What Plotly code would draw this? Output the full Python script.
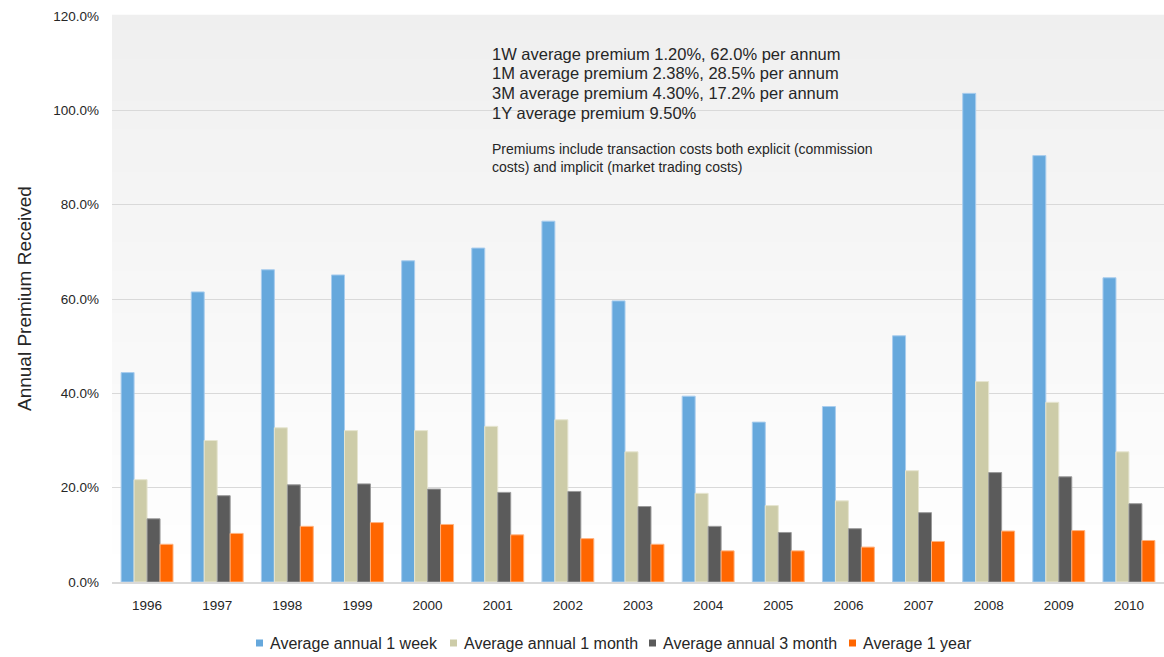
import plotly.graph_objects as go

# Years on the category axis
years = ["1996", "1997", "1998", "1999", "2000", "2001", "2002", "2003",
         "2004", "2005", "2006", "2007", "2008", "2009", "2010"]

# Annual premium received (%) per tenor
week_1 = [44.4, 61.5, 66.2, 65.1, 68.1, 70.8, 76.5, 59.6, 39.4, 33.9, 37.2, 52.2, 103.6, 90.4, 64.5]
month_1 = [21.7, 30.0, 32.7, 32.1, 32.1, 33.0, 34.4, 27.6, 18.8, 16.2, 17.2, 23.6, 42.5, 38.1, 27.6]
month_3 = [13.4, 18.3, 20.6, 20.8, 19.7, 19.0, 19.2, 16.0, 11.8, 10.5, 11.3, 14.7, 23.2, 22.3, 16.6]
year_1 = [8.0, 10.3, 11.8, 12.6, 12.2, 10.0, 9.2, 8.0, 6.6, 6.6, 7.4, 8.6, 10.8, 10.9, 8.8]

series_names = ["Average annual 1 week", "Average annual 1 month",
                "Average annual 3 month", "Average 1 year"]

note_lines = [
    "1W average premium 1.20%, 62.0% per annum",
    "1M average premium 2.38%, 28.5% per annum",
    "3M average premium 4.30%, 17.2% per annum",
    "1Y average premium 9.50%",
]
cost_lines = [
    "Premiums include transaction costs both explicit (commission",
    "costs) and implicit (market trading costs)",
]

y_ticks = [0, 20, 40, 60, 80, 100, 120]
y_tick_text = ["0.0%", "20.0%", "40.0%", "60.0%", "80.0%", "100.0%", "120.0%"]

FONT = "Liberation Sans, Arial, sans-serif"
TXT = "#262626"

W, H = 1164, 657
ML, MR, MT, MB = 112, 0, 16, 75
plot_h = H - MT - MB
plot_w = W - ML - MR


def py(pix):
    """Pixel row -> paper y coordinate."""
    return (H - MB - pix) / plot_h


def px(pix):
    """Pixel column -> paper x coordinate."""
    return (pix - ML) / plot_w


fills = ["#66a8dc", "#cdcca8", "#5b5b5b", "#ff6600"]
edges = ["#a9cdee", "#e6e5d0", "#9a9a9a", "#ffb27f"]
values = [week_1, month_1, month_3, year_1]

fig = go.Figure()
for name, vals, c, e in zip(series_names, values, fills, edges):
    fig.add_trace(go.Bar(
        x=years, y=vals, name=name, showlegend=False,
        marker=dict(color=c, line=dict(color=e, width=1)),
    ))

# Soft vertical gradient behind the plot area (grey at top, white at bottom)
shapes = []
steps = 40
for i in range(steps):
    t = i / steps
    g = int(round(0xef + (0xff - 0xef) * (1 - t)))
    col = f"rgb({g},{g},{g})"
    shapes.append(dict(type="rect", xref="paper", yref="paper",
                       x0=0, x1=1, y0=t, y1=t + 1 / steps + 0.002,
                       fillcolor=col, line=dict(width=0), layer="below"))

annotations = []
for i, line in enumerate(note_lines):
    annotations.append(dict(
        text=line, xref="paper", yref="paper", x=px(490), y=py(54 + 19.5 * i),
        xanchor="left", yanchor="middle", showarrow=False,
        font=dict(family=FONT, size=16.5, color=TXT)))
for i, line in enumerate(cost_lines):
    annotations.append(dict(
        text=line, xref="paper", yref="paper", x=px(490), y=py(149 + 18 * i),
        xanchor="left", yanchor="middle", showarrow=False,
        font=dict(family=FONT, size=14, color=TXT)))

annotations.append(dict(
    text="Annual Premium Received", xref="paper", yref="paper",
    x=px(24), y=0.5, xanchor="center", yanchor="middle", textangle=-90,
    showarrow=False, font=dict(family=FONT, size=19, color=TXT)))

# Legend row under the axis: small colour square followed by the series name
legend_text_x = [268, 462, 661, 861]
legend_y = 643
for name, c, lx in zip(series_names, fills, legend_text_x):
    shapes.append(dict(type="rect", xref="paper", yref="paper",
                       x0=px(lx - 12), x1=px(lx - 5),
                       y0=py(legend_y + 3.5), y1=py(legend_y - 3.5),
                       fillcolor=c, line=dict(width=0)))
    annotations.append(dict(
        text=name, xref="paper", yref="paper", x=px(lx), y=py(legend_y),
        xanchor="left", yanchor="middle", showarrow=False,
        font=dict(family=FONT, size=16, color=TXT)))

fig.update_layout(
    width=W, height=H,
    margin=dict(l=ML, r=MR, t=MT, b=MB, autoexpand=False),
    paper_bgcolor="white", plot_bgcolor="white",
    barmode="group", bargap=0.26, bargroupgap=0,
    font=dict(family=FONT, color=TXT),
    shapes=shapes, annotations=annotations,
    showlegend=False,
)
fig.update_xaxes(
    type="category", showgrid=False, showline=True, linecolor="#d9d9d9",
    linewidth=1.5, ticks="", ticklabelstandoff=10,
    tickfont=dict(family=FONT, size=13.5, color=TXT),
)
fig.update_yaxes(
    range=[0, 120], tickvals=y_ticks, ticktext=y_tick_text,
    showgrid=True, gridcolor="#d9d9d9", gridwidth=1,
    zeroline=False, ticks="", ticklabelstandoff=12,
    tickfont=dict(family=FONT, size=13.5, color=TXT),
)

fig.write_html("out.html")
